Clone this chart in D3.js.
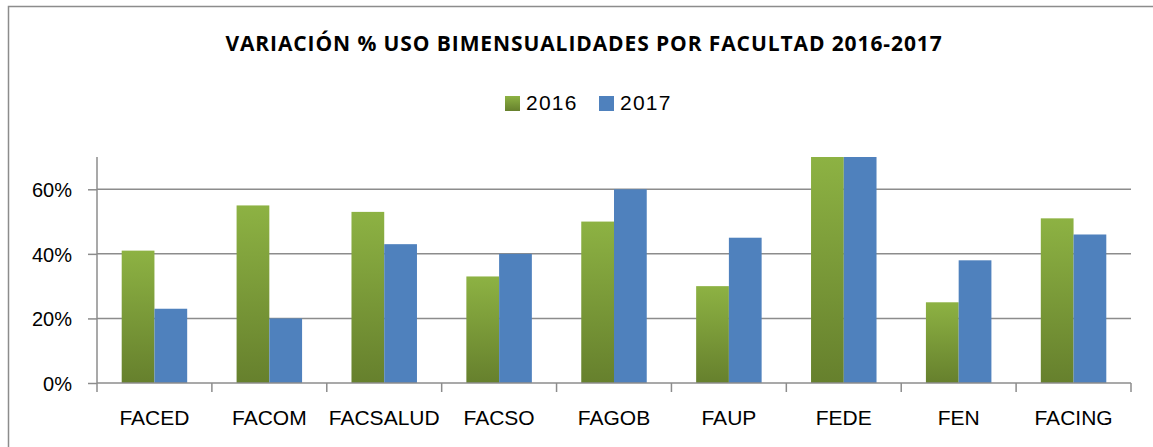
<!DOCTYPE html>
<html>
<head>
<meta charset="utf-8">
<title>Variación % uso bimensualidades</title>
<script src="https://d3js.org/d3.v7.min.js"></script>
<style>
  body { margin: 0; background: #fff; }
  text { font-family: "Liberation Sans", Arial, sans-serif; fill: #000; }
</style>
</head>
<body>
<div id="chart"></div>
<script>
// datos
const facultades = ["FACED", "FACOM", "FACSALUD", "FACSO", "FAGOB", "FAUP", "FEDE", "FEN", "FACING"];
const series = ["2016", "2017"];
const v2016 = [41, 55, 53, 33, 50, 30, 70, 25, 51];
const v2017 = [23, 20, 43, 40, 60, 45, 70, 38, 46];
const yTicks = [0, 20, 40, 60];

const W = 1153, H = 447;
const margin = {top: 157, right: 22, bottom: 64, left: 97};
const w = W - margin.left - margin.right;
const h = H - margin.top - margin.bottom;

const svg = d3.select("#chart").append("svg")
    .attr("width", W).attr("height", H);

// gradiente verde (claro arriba, oscuro abajo)
const defs = svg.append("defs");
const grad = defs.append("linearGradient").attr("id", "gVerde")
    .attr("x1", 0).attr("y1", 0).attr("x2", 0).attr("y2", 1);
grad.append("stop").attr("offset", "0%").attr("stop-color", "#8db243");
grad.append("stop").attr("offset", "100%").attr("stop-color", "#66802d");
const colores = ["url(#gVerde)", "#4f81bd"];

// marco exterior
svg.append("rect")
    .attr("x", 8.5).attr("y", 6.5)
    .attr("width", W + 10).attr("height", H + 10)
    .attr("fill", "none").attr("stroke", "#8c8c8c").attr("stroke-width", 1.5);

// titulo
svg.append("text")
    .attr("x", 584).attr("y", 51)
    .attr("text-anchor", "middle")
    .style("font-family", "'Open Sans', sans-serif")
    .attr("font-weight", "bold")
    .attr("font-size", "21px")
    .attr("letter-spacing", "0.9px")
    .text("VARIACIÓN % USO BIMENSUALIDADES POR FACULTAD 2016-2017");

// leyenda
const leyX = [505, 599];
series.forEach((s, i) => {
  svg.append("rect")
      .attr("x", leyX[i]).attr("y", 96)
      .attr("width", 15).attr("height", 15)
      .attr("fill", colores[i]);
  svg.append("text")
      .attr("x", leyX[i] + 21).attr("y", 110)
      .attr("font-size", "21px")
      .attr("letter-spacing", "1.2px")
      .text(s);
});

const g = svg.append("g")
    .attr("transform", "translate(" + margin.left + "," + margin.top + ")");

const x = d3.scaleBand().domain(facultades).range([0, w]).paddingInner(0.43).paddingOuter(0.215);
const xs = d3.scaleBand().domain(series).range([0, x.bandwidth()]);
const y = d3.scaleLinear().domain([0, 70]).range([h, 0]);

// lineas de cuadricula
g.selectAll(".grid")
    .data(yTicks.filter(d => d > 0))
    .enter().append("line")
    .attr("x1", 0).attr("x2", w)
    .attr("y1", d => y(d)).attr("y2", d => y(d))
    .attr("stroke", "#8c8c8c").attr("stroke-width", 1.5);

// barras
const datos = facultades.map((f, i) => ({f: f, vals: [v2016[i], v2017[i]]}));
const grupo = g.selectAll(".grupo")
    .data(datos)
    .enter().append("g")
    .attr("transform", d => "translate(" + x(d.f) + ",0)");

grupo.selectAll("rect")
    .data(d => d.vals.map((v, i) => ({s: series[i], v: v, i: i})))
    .enter().append("rect")
    .attr("x", d => xs(d.s))
    .attr("y", d => y(d.v))
    .attr("width", xs.bandwidth())
    .attr("height", d => h - y(d.v))
    .attr("fill", d => colores[d.i]);

// eje y
const yAxis = d3.axisLeft(y).tickValues(yTicks).tickSize(9).tickPadding(16)
    .tickFormat(d => d + "%");
const gy = g.append("g").call(yAxis);
gy.select(".domain").attr("stroke", "#8c8c8c").attr("stroke-width", 1.5).attr("d", "M0," + h + "V0");
gy.selectAll(".tick line").attr("stroke", "#8c8c8c").attr("stroke-width", 1.5);
gy.selectAll(".tick text").attr("font-size", "20px")
    .attr("fill", "#000").attr("dy", "0.36em");

// eje x
const ticksX = d3.range(facultades.length + 1).map(i => i * w / facultades.length);
g.append("line").attr("x1", 0).attr("x2", w).attr("y1", h).attr("y2", h)
    .attr("stroke", "#8c8c8c").attr("stroke-width", 1.5);
g.selectAll(".xtick").data(ticksX).enter().append("line")
    .attr("x1", d => d).attr("x2", d => d)
    .attr("y1", h).attr("y2", h + 9)
    .attr("stroke", "#8c8c8c").attr("stroke-width", 1.5);
g.selectAll(".xlab").data(facultades).enter().append("text")
    .attr("x", d => x(d) + x.bandwidth() / 2)
    .attr("y", h + 42)
    .attr("text-anchor", "middle")
    .attr("font-size", "21px")
    .text(d => d);
</script>
</body>
</html>
